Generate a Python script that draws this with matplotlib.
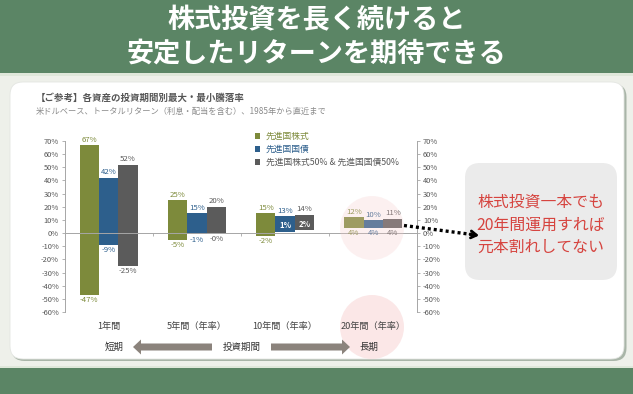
import matplotlib
matplotlib.use("Agg")
import matplotlib.pyplot as plt
from matplotlib.patches import Rectangle, FancyBboxPatch, Circle, FancyArrow
import numpy as np

plt.rcParams['font.family'] = ['Noto Sans CJK JP', 'DejaVu Sans']

# ---------------- data ----------------
periods = ['1年間', '5年間（年率）', '10年間（年率）', '20年間（年率）']
series_names = ['先進国株式', '先進国国債', '先進国株式50% & 先進国国債50%']
stock_max = [67, 25, 15, 12]
stock_min = [-47, -5, -2, 4]
bond_max = [42, 15, 13, 10]
bond_min = [-9, -1, 1, 4]
mix_max = [52, 20, 14, 11]
mix_min = [-25, -0.2, 2, 4]
yticks = [70, 60, 50, 40, 30, 20, 10, 0, -10, -20, -30, -40, -50, -60]

title_lines = ['株式投資を長く続けると', '安定したリターンを期待できる']
chart_title = '【ご参考】各資産の投資期間別最大・最小騰落率'
chart_sub = '米ドルベース、トータルリターン（利息・配当を含む）、1985年から直近まで'
callout_lines = ['株式投資一本でも', '20年間運用すれば', '元本割れしてない']
bottom_labels = ['短期', '投資期間', '長期']

colors = ['#7d8a3b', '#2d5f8c', '#5b5b5b']
label_colors = ['#7d8a3b', '#2d5f8c', '#595959']

W, H = 633, 394
fig = plt.figure(figsize=(W / 100, H / 100), dpi=100)

# ---------------- background (pixel coords) ----------------
bg = fig.add_axes([0, 0, 1, 1], zorder=0)
bg.set_xlim(0, W)
bg.set_ylim(H, 0)
bg.axis('off')
green = '#5b8565'
bg.add_patch(Rectangle((0, 0), W, H, color='#eef0ea', lw=0))
bg.add_patch(Rectangle((0, 0), W, 73, color=green, lw=0))
bg.add_patch(Rectangle((0, 73), W, 3, color='#dfe7da', lw=0))
bg.add_patch(Rectangle((0, 368), W, H - 368, color=green, lw=0))
bg.add_patch(Rectangle((0, 366), W, 2, color='#dfe7da', lw=0))
# card shadow + card
bg.add_patch(FancyBboxPatch((11.5, 84), 615, 277, boxstyle='round,pad=0,rounding_size=13',
                            fc='#a9b5a8', ec='none'))
bg.add_patch(FancyBboxPatch((10, 82), 614, 277, boxstyle='round,pad=0,rounding_size=13',
                            fc='white', ec='#e4e6e2', lw=0.6))
# lower pink circle behind text
bg.add_patch(Circle((372, 327), 32, fc='#fbe7e7', ec='none'))

for txt, y in zip(title_lines, [20, 54]):
    bg.text(316.5, y, txt, color='white', fontsize=19.5, fontweight='bold',
            ha='center', va='center')

bg.text(36, 98, chart_title, fontsize=6.8, fontweight='bold', color='#555555',
        ha='left', va='center')
bg.text(36, 111, chart_sub, fontsize=5.95, color='#8a8a8a', ha='left', va='center')

# bottom arrows and labels
arrow_col = '#8b837c'
bg.add_patch(FancyArrow(212, 347, -79, 0, width=7, head_width=15, head_length=8,
                        length_includes_head=True, fc=arrow_col, ec='none'))
bg.add_patch(FancyArrow(271, 347, 79, 0, width=7, head_width=15, head_length=8,
                        length_includes_head=True, fc=arrow_col, ec='none'))
for txt, x in zip(bottom_labels, [114, 242, 369]):
    bg.text(x, 347, txt, fontsize=6.8, color='#333333', ha='center', va='center')

# ---------------- chart ----------------
ax = fig.add_axes([64.5 / W, (H - 312) / H, 353 / W, 171 / H], zorder=1)
ax.patch.set_alpha(0)
ax.set_ylim(-60, 70)
ax.set_xlim(-0.5, len(periods) - 0.5)

x = np.arange(len(periods))
bw = 0.22
maxs = [stock_max, bond_max, mix_max]
mins = [stock_min, bond_min, mix_min]
handles = []
lab_fs = 5.6
for i in range(3):
    xs = x + (i - 1) * bw
    hi = np.array(maxs[i], dtype=float)
    lo = np.array(mins[i], dtype=float)
    b = ax.bar(xs, hi - lo, bottom=lo, width=bw, color=colors[i], lw=0, zorder=2)
    handles.append(b)
    for xx, h, l in zip(xs, hi, lo):
        ax.annotate(f'{h:.0f}%', (xx, h), xytext=(0, 1.0), textcoords='offset points',
                    ha='center', va='bottom', fontsize=lab_fs, color=label_colors[i], zorder=4)
        if l > 0 and h - l >= 10:
            ax.annotate(f'{l:.0f}%', (xx, l), xytext=(0, 1.2), textcoords='offset points',
                        ha='center', va='bottom', fontsize=lab_fs, color='white',
                        fontweight='bold', zorder=4)
        else:
            ax.annotate(f'{l:.0f}%', (xx, l), xytext=(0, -1.0), textcoords='offset points',
                        ha='center', va='top', fontsize=lab_fs, color=label_colors[i], zorder=4)

axis_col = '#a6a6a6'
for s in ['top', 'right']:
    ax.spines[s].set_visible(False)
ax.spines['bottom'].set_position(('data', 0))
ax.spines['bottom'].set_color(axis_col)
ax.spines['bottom'].set_linewidth(0.7)
ax.spines['left'].set_color(axis_col)
ax.spines['left'].set_linewidth(0.7)
ax.set_xticks(np.arange(-0.5, len(periods), 1.0))
ax.set_xticklabels([])
ax.tick_params(axis='x', length=2.5, width=0.6, color=axis_col, direction='out')
ax.set_yticks(yticks)
ax.set_yticklabels([f'{v}%' for v in yticks])
ax.tick_params(axis='y', length=2.5, width=0.6, color=axis_col, labelsize=5.4,
               labelcolor='#555555', pad=1.5)

ax2 = ax.twinx()
ax2.set_ylim(ax.get_ylim())
for s in ['top', 'left', 'bottom']:
    ax2.spines[s].set_visible(False)
ax2.spines['right'].set_color(axis_col)
ax2.spines['right'].set_linewidth(0.7)
ax2.set_yticks(yticks)
ax2.set_yticklabels([f'{v}%' for v in yticks])
ax2.tick_params(axis='y', length=2.5, width=0.6, color=axis_col, labelsize=5.4,
                labelcolor='#555555', pad=1.5)

for xx, lab in zip(x, periods):
    ax.text(xx, -0.085, lab, transform=ax.get_xaxis_transform(), ha='center',
            va='center', fontsize=6.6, color='#444444')

leg = ax.legend(handles, series_names, loc='upper left',
                bbox_to_anchor=(255 / W, 1 - 132 / H), bbox_transform=fig.transFigure,
                frameon=False, fontsize=6.3, handlelength=0.6, handleheight=0.6,
                handletextpad=0.6, labelspacing=0.45, borderpad=0, borderaxespad=0)
for t, c in zip(leg.get_texts(), label_colors):
    t.set_color(c)

# ---------------- overlay ----------------
ov = fig.add_axes([0, 0, 1, 1], zorder=3)
ov.set_xlim(0, W)
ov.set_ylim(H, 0)
ov.axis('off')
ov.patch.set_alpha(0)
ov.add_patch(Circle((372, 228), 32, fc='#f6cccc', ec='none', alpha=0.28))

ov.add_patch(FancyBboxPatch((465, 163), 152, 117, boxstyle='round,pad=0,rounding_size=15',
                            fc='#ebebeb', ec='none'))
for txt, y in zip(callout_lines, [202, 225, 247]):
    ov.text(541, y, txt, fontsize=11.4, color='#d6443f', ha='center', va='center')

ov.plot([404, 472], [225.5, 234.5], color='black', lw=2.4, ls=(0, (0.9, 0.9)),
        solid_capstyle='butt')
ov.annotate('', xy=(479, 235.5), xytext=(470, 234.3),
            arrowprops=dict(arrowstyle='->,head_length=0.4,head_width=0.25', lw=2,
                            color='black', shrinkA=0, shrinkB=0))

fig.savefig('out.png', dpi=100)
